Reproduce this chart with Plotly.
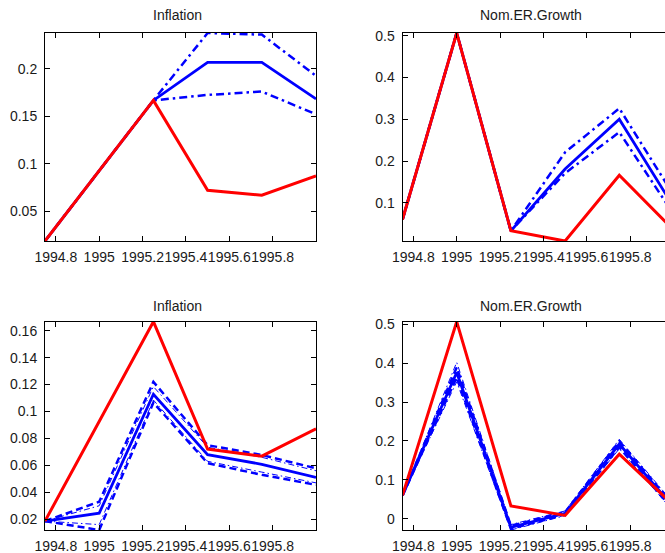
import plotly.graph_objects as go

# quarterly observation dates
quarters = [1994.75, 1995.0, 1995.25, 1995.5, 1995.75, 1996.0]
x_tick_vals = [1994.8, 1995.0, 1995.2, 1995.4, 1995.6, 1995.8]
x_tick_text = ["1994.8", "1995", "1995.2", "1995.4", "1995.6", "1995.8"]

# observed series
inflation_actual = [0.0186, 0.0925, 0.1667, 0.0721, 0.0668, 0.0872]
er_growth_actual = [0.060, 0.5065, 0.033, 0.0086, 0.166, 0.035]

# forecasts conditional on data through 1995.25 (median and bands)
infl_fc_mid = [0.0186, 0.0925, 0.1667, 0.2067, 0.2067, 0.1683]
infl_fc_hi = [0.0186, 0.0925, 0.1667, 0.2377, 0.2360, 0.1926]
infl_fc_lo = [0.0186, 0.0925, 0.1667, 0.1725, 0.1760, 0.1521]

er_fc_mid = [0.060, 0.5065, 0.033, 0.181, 0.300, 0.091]
er_fc_hi = [0.060, 0.5065, 0.033, 0.221, 0.326, 0.119]
er_fc_lo = [0.060, 0.5065, 0.033, 0.171, 0.269, 0.073]

# simulated paths from 1994.75 (median, 90% and 68% bands)
infl_sim_mid = [0.0186, 0.0245, 0.1128, 0.0680, 0.0608, 0.0510]
infl_sim_hi90 = [0.0186, 0.0330, 0.1220, 0.0750, 0.0677, 0.0578]
infl_sim_lo90 = [0.0186, 0.0120, 0.1066, 0.0616, 0.0530, 0.0455]
infl_sim_hi68 = [0.0186, 0.0300, 0.1185, 0.0735, 0.0660, 0.0560]
infl_sim_lo68 = [0.0186, 0.0160, 0.1085, 0.0630, 0.0550, 0.0470]

er_sim_mid = [0.060, 0.376, -0.022, 0.014, 0.192, 0.029]
er_sim_hi90 = [0.060, 0.389, -0.018, 0.017, 0.199, 0.035]
er_sim_lo90 = [0.060, 0.363, -0.026, 0.011, 0.184, 0.022]
er_sim_hi68 = [0.060, 0.402, -0.015, 0.020, 0.204, 0.040]
er_sim_lo68 = [0.060, 0.352, -0.029, 0.008, 0.180, 0.018]

titles = ["Inflation", "Nom.ER.Growth", "Inflation", "Nom.ER.Growth"]
y_ticks_tl = [0.05, 0.1, 0.15, 0.2]
y_ticks_tr = [0.1, 0.2, 0.3, 0.4, 0.5]
y_ticks_bl = [0.02, 0.04, 0.06, 0.08, 0.1, 0.12, 0.14, 0.16]
y_ticks_br = [0, 0.1, 0.2, 0.3, 0.4, 0.5]

W, H = 665, 553
RED = "#ff0000"
BLUE = "#0000ff"
FONT = dict(family="Liberation Sans, Arial, sans-serif", size=14, color="#1a1a1a")

fig = go.Figure()


def px_x(a, b):
    return [a / W, b / W]


def px_y(top, bottom):
    return [(H - bottom) / H, (H - top) / H]


# axes boxes in pixels: left, right, top, bottom
panels = [
    dict(x="x", y="y", xd=px_x(45, 316), yd=px_y(33, 241), right=False),
    dict(x="x2", y="y2", xd=px_x(402.5, 665), yd=px_y(33, 241), right=True),
    dict(x="x3", y="y3", xd=px_x(45, 316), yd=px_y(321.7, 530), right=False),
    dict(x="x4", y="y4", xd=px_x(402.5, 665), yd=px_y(321.7, 530), right=True),
]

panel_series = [
    dict(bands=[(infl_fc_hi, "thick"), (infl_fc_lo, "thick")],
         mid=infl_fc_mid, actual=inflation_actual, yt=y_ticks_tl),
    dict(bands=[(er_fc_hi, "thick"), (er_fc_lo, "thick")],
         mid=er_fc_mid, actual=er_growth_actual, yt=y_ticks_tr),
    dict(bands=[(infl_sim_hi90, "dash"), (infl_sim_lo90, "dash"),
                (infl_sim_hi68, "thin"), (infl_sim_lo68, "thin")],
         mid=infl_sim_mid, actual=inflation_actual, yt=y_ticks_bl),
    dict(bands=[(er_sim_hi90, "dash"), (er_sim_lo90, "dash"),
                (er_sim_hi68, "thin"), (er_sim_lo68, "thin")],
         mid=er_sim_mid, actual=er_growth_actual, yt=y_ticks_br),
]

band_styles = {
    "thick": dict(width=2.5, dash="8px,4px,2.5px,4px"),
    "dash": dict(width=2.5, dash="7px,4px"),
    "thin": dict(width=1, dash="6px,3px,1.5px,3px"),
}

px_per_year = (316 - 45) / (quarters[-1] - quarters[0])

layout = {}
for i, (p, s) in enumerate(zip(panels, panel_series)):
    for vals, style in s["bands"]:
        fig.add_trace(go.Scatter(x=quarters, y=vals, mode="lines",
                                 line=dict(color=BLUE, **band_styles[style]),
                                 xaxis=p["x"], yaxis=p["y"], showlegend=False,
                                 hoverinfo="skip"))
    fig.add_trace(go.Scatter(x=quarters, y=s["mid"], mode="lines",
                             line=dict(color=BLUE, width=2.8),
                             xaxis=p["x"], yaxis=p["y"], showlegend=False))
    fig.add_trace(go.Scatter(x=quarters, y=s["actual"], mode="lines",
                             line=dict(color=RED, width=3),
                             xaxis=p["x"], yaxis=p["y"], showlegend=False))

    all_vals = list(s["mid"]) + list(s["actual"])
    for vals, _ in s["bands"]:
        all_vals += list(vals)
    y_range = [min(all_vals), max(all_vals)]

    if p["right"]:
        width_px = (p["xd"][1] - p["xd"][0]) * W
        x_range = [quarters[0], quarters[0] + width_px / px_per_year]
    else:
        x_range = [quarters[0], quarters[-1]]

    suffix = "" if i == 0 else str(i + 1)
    layout["xaxis" + suffix] = dict(
        domain=p["xd"], range=x_range, anchor=p["y"], automargin=False,
        tickvals=x_tick_vals, ticktext=x_tick_text, tickangle=0,
        ticklabeloverflow="allow",
        ticks="inside", ticklen=5, tickwidth=1, tickcolor="black",
        showline=True, linecolor="black", linewidth=1, mirror="ticks",
        showgrid=False, zeroline=False, tickfont=FONT, ticklabelstandoff=3,
    )
    layout["yaxis" + suffix] = dict(
        domain=p["yd"], range=y_range, anchor=p["x"], automargin=False,
        tickvals=s["yt"], ticktext=[f"{v:g}" for v in s["yt"]],
        ticklabeloverflow="allow",
        ticks="inside", ticklen=5, tickwidth=1, tickcolor="black",
        showline=True, linecolor="black", linewidth=1,
        mirror=False if p["right"] else "ticks",
        showgrid=False, zeroline=False, tickfont=FONT, ticklabelstandoff=4,
    )

title_pos = [(177, 15), (531, 15), (177, 305.5), (531, 305.5)]
annotations = [
    dict(text=t, x=cx / W, y=(H - cy) / H, xref="paper", yref="paper",
         xanchor="center", yanchor="middle", showarrow=False,
         font=dict(family=FONT["family"], size=14, color="#1a1a1a"))
    for t, (cx, cy) in zip(titles, title_pos)
]

fig.update_layout(
    template="none",
    width=W, height=H, margin=dict(l=0, r=0, t=0, b=0, autoexpand=False),
    paper_bgcolor="white", plot_bgcolor="white",
    annotations=annotations, **layout,
)

fig.write_html("out.html")
